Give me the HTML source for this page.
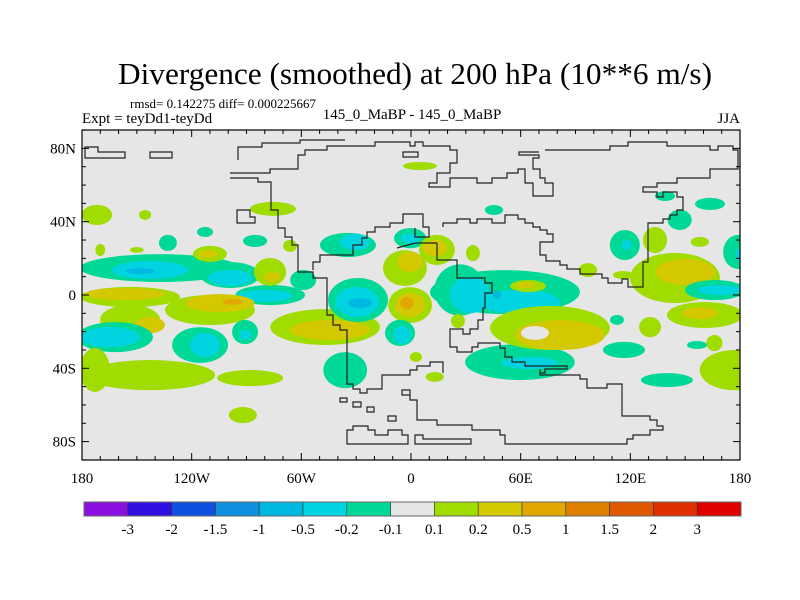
<!DOCTYPE html>
<html><head><meta charset="utf-8">
<style>
html,body{margin:0;padding:0;background:#fff;}
svg{display:block;font-family:"Liberation Serif",serif;}
</style></head>
<body>
<svg id="chart" width="800" height="600" viewBox="0 0 800 600" xmlns="http://www.w3.org/2000/svg">
<defs><clipPath id="plotclip"><rect x="82" y="130" width="658" height="330"/></clipPath></defs>
<text x="415" y="84" text-anchor="middle" font-size="31" textLength="594" lengthAdjust="spacingAndGlyphs">Divergence (smoothed) at 200 hPa (10**6 m/s)</text>
<text x="130" y="108" font-size="13">rmsd= 0.142275 diff= 0.000225667</text>
<text x="82" y="123" font-size="15">Expt = teyDd1-teyDd</text>
<text x="412" y="119" text-anchor="middle" font-size="15">145_0_MaBP - 145_0_MaBP</text>
<text x="740" y="123" text-anchor="end" font-size="15">JJA</text>
<rect x="82" y="130" width="658" height="330" fill="#e6e6e6"/>
<g id="fills" clip-path="url(#plotclip)"></g>
<g id="coast" clip-path="url(#plotclip)" fill="none" stroke="#222" stroke-width="1.2"></g>
<rect x="82" y="130" width="658" height="330" fill="none" stroke="#000" stroke-width="1.2"/>
<g id="axes"></g>
<g id="cbar"></g>
</svg>
<script>
// ---- data ----
const levelBounds = [-3, -2, -1.5, -1, -0.5, -0.2, -0.1, 0.1, 0.2, 0.5, 1, 1.5, 2, 3];
const levelLabels = ["-3","-2","-1.5","-1","-0.5","-0.2","-0.1","0.1","0.2","0.5","1","1.5","2","3"];
const levelColors = ["#8a10e0","#3010e0","#1050e0","#1090e0","#00b8e0","#00d4e0","#00d898","#e6e6e6","#a0dc00","#d4c800","#e0a800","#e08000","#e05800","#e03000","#e00000"];
const latTicks = [80, 40, 0, -40, -80];
const latLabels = ["80N","40N","0","40S","80S"];
const lonTicks = [-180, -120, -60, 0, 60, 120, 180];
const lonLabels = ["180","120W","60W","0","60E","120E","180"];
// smoothed divergence features: centre lon, centre lat, half-width lon, half-width lat, value
const blobLon = [-171.8,-170,-145.5,-112.7,-150,-137.3,-142.8,-148,-99,-99,-77,-80,-133,-85.3,-110,-111,-77.1,-76,-75.5,-66.2,
 -153.7,-156.5,-110,-104.5,-97.4,-153.7,-142.8,-47,-44.3,-162,-164.7,-115.4,-112.7,-90.8,-90.8,-142.8,-172.9,-88,-92,
 -29,-29.5,-27.9,-34.5,-30.6,-59,-36,-3.3,-0.5,-0.5,-0.5,-2.2,-6,-5,-0.5,-0.5,14.2,13,33.9,
 26.8,51.4,32.3,59.6,47,64,62.4,59.6,65,76,81.5,67.8,116.5,140,112.7,130.8,177,166,156.5,
 144.4,150,166.3,169,160.8,158,117,118,133.5,158,147,163.6,179,180,139,4.9,45.4,96.8,116,13,2.7,25.7];
const blobLat = [43.7,24.6,43.7,34.4,24.6,14.7,13.6,13,10.9,9.3,0,-0.5,28.4,29.5,22.4,22.4,12.6,9.8,47,26.8,
 -1.1,0.5,-8.2,-4.4,-3.8,-13.6,-16.4,-17.5,-19.1,-23,-23,-27.3,-27.3,-20.2,-21.8,-43.7,-40.9,-45.3,-65.5,
 -2.7,-3.8,-4.4,27.3,28.9,8.2,-41,14.7,18,-5.5,-5.5,-4.4,-20.7,-21.8,31,31,24.6,25.7,22.9,
 2.7,1.6,0,-3.8,0,4.9,5.4,-36.6,-37.1,-18,-21.8,-20.7,-30,-46.4,-13.6,-17.5,-41,-26.2,-27.3,
 9.3,12.6,2.7,2.7,-10.9,-10,27.3,27.3,30,29,41,49.7,23.5,22,54,70.4,46.4,13.6,10.9,-44.7,-33.8,-14.2];
const blobRLon = [8.2,2.7,3.3,4.4,3.8,43.8,20.8,8,16.4,12,19,15,4.9,6.6,9.3,5.5,8.8,4.4,12.6,3.8,
 27.4,22,24.6,19,5.5,16.4,8.2,30,21.9,20.8,16.4,15.3,8.2,7.1,3.3,35.6,8.2,18,7.7,
 16.4,12,6.6,15.3,8.2,7.1,12,12,7.1,12,8.2,3.8,8.2,4.9,8.8,4.9,9.8,6.6,3.8,
 14,41,11,21.9,2.2,9.8,5.5,30,15.3,32.8,24.6,7.7,11.5,14.2,3.8,6,19,4.4,5.5,
 24.6,16.4,16.4,12,20.8,9.8,8.2,2.7,6.6,5,6.6,8.2,8.2,2.7,5.5,9.3,5,5,5.5,4.9,3.3,3.8];
const blobRLat = [5.5,3.3,2.7,2.7,1.6,7.6,4.9,1.6,7.1,4.4,5.5,3.3,4.4,3.3,4.4,2.2,7.6,2.7,3.8,3.3,
 5.5,3.3,8.2,4.9,1.6,8.2,4.4,9.8,5.5,8.2,5.5,9.8,6.6,6.6,2.7,8.2,12,4.4,4.4,
 12,8.2,2.7,6.6,4.4,5.5,9.8,9.8,5.5,9.8,6.6,3.3,7.1,4.9,5.5,2.7,8.2,4.4,4.4,
 14,12,10,6.6,2.2,3.3,1.6,9.8,3.3,12,8.2,3.8,4.4,3.8,2.7,5.5,11,4.4,2.2,
 13.7,7.1,5.5,2.7,7.1,3.3,8.2,2.7,7.1,2.7,5.5,3.3,9.3,3.3,2.7,2.2,2.7,3.8,2.2,2.7,2.7,3.8];
const blobValue = [0.15,0.15,0.15,-0.15,0.15,-0.15,-0.3,-0.7,-0.15,-0.3,-0.15,-0.3,-0.15,-0.15,0.15,0.3,0.15,0.3,0.15,0.15,
 0.15,0.3,0.15,0.3,0.7,0.15,0.3,0.15,0.3,-0.15,-0.3,-0.15,-0.3,-0.15,-0.3,0.15,0.15,0.15,0.15,
 -0.15,-0.3,-0.7,-0.15,-0.3,-0.15,-0.15,0.15,0.3,0.15,0.3,0.7,-0.15,-0.3,-0.15,-0.3,0.15,0.3,0.15,
 -0.15,-0.15,-0.3,-0.3,-0.7,0.15,0.3,-0.15,-0.3,0.15,0.3,0,-0.15,-0.15,-0.15,0.15,0.15,0.15,-0.15,
 0.15,0.3,-0.15,-0.3,0.15,0.3,-0.15,-0.3,0.15,0.15,-0.15,-0.15,-0.15,-0.3,-0.15,0.15,-0.15,0.15,0.15,0.15,0.15,0.15];

// ---- scales ----
const X0 = 82, X1 = 740, Y0 = 130, Y1 = 460;
function xs(lon){ return X0 + (lon + 180) / 360 * (X1 - X0); }
function ys(lat){ return 295 - lat * (X1 - X0) / 360 * 1.0026; }
function colorFor(v){
  let i = 0;
  while (i < levelBounds.length && v >= levelBounds[i]) i++;
  return levelColors[i];
}
const NS = "http://www.w3.org/2000/svg";
function mk(tag, attrs, parent){
  const e = document.createElementNS(NS, tag);
  for (const k in attrs) e.setAttribute(k, attrs[k]);
  parent.appendChild(e); return e;
}

// ---- fills ----
const fills = document.getElementById("fills");
for (let i = 0; i < blobLon.length; i++){
  const e = mk("ellipse", {cx: xs(blobLon[i]), cy: ys(blobLat[i]),
    rx: blobRLon[i] / 360 * (X1 - X0), ry: blobRLat[i] * 1.8325, fill: colorFor(blobValue[i])}, fills);
  
  
}

// ---- coastlines (map geometry in pixels) ----
const coastPaths = [
 "M85,147 L98,147 L98,152 L125,152 L125,158 L85,158 Z",
 "M150,152 L172,152 L172,158 L150,158 Z",
 "M238,160 L238,147 L262,147 L262,143 L300,143 L300,140 L345,140",
 "M230,173 L270,173 L270,169 L298,169 L298,155 L305,155 L305,150 L327,150 L327,146 L375,146 L375,142 L410,142 L410,146 L415,146 L415,142 L423,142 L423,146 L450,146 L450,150 L457,150 L457,163 L450,163 L450,173 L437,173 L437,183 L429,183 L429,187 L450,187 L450,178 L477,178 L477,183 L492,183 L492,178 L507,178 L507,173 L518,173 L518,169 L525,169 L525,183 L533,183 L533,196 L553,196 L553,183 L545,183 L545,178 L540,178 L540,169 L533,169 L533,158 L539,158 L539,155 L519,155 L519,152 L539,152",
 "M545,150 L610,150 L610,146 L628,146 L628,142 L667,142 L667,146 L710,146 L710,150 L718,150 L718,146 L733,146 L733,150 L738,150 L738,169 L710,169 L710,178 L677,178 L677,183 L657,183 L657,187 L643,187 L643,192 L657,192 L657,197 L663,197 L663,192 L677,192 L677,197 L683,197 L683,210 L677,210 L677,215 L670,215 L670,219 L663,219 L663,223 L648,223 L648,262 L643,262 L643,287 L628,287 L628,279 L622,279 L622,283 L608,283 L608,278 L602,278 L602,274 L580,274 L580,269 L567,269 L567,265 L560,265 L560,261 L546,261 L546,255 L540,255 L540,242 L553,242 L553,234 L547,234 L547,230 L540,230 L540,227 L533,227 L533,223 L525,223 L525,219 L518,219 L518,215 L505,215 L505,223 L492,223 L492,219 L477,219 L477,223 L470,223 L470,219 L457,219 L457,223 L443,223 L443,227",
 "M230,178 L258,178 L258,182 L271,182 L271,210 L278,210 L278,228 L285,228 L285,237 L292,237 L292,245 L298,245 L298,272 L313,272 L313,278 L327,278 L327,315 L333,315 L333,325 L340,325 L340,330 L347,330 L347,384 L353,384 L353,389 L360,389 L360,393 L367,393 L367,389 L382,389 L382,375 L410,375 L410,370 L417,370 L417,366 L430,366 L430,362 L443,362 L443,373",
 "M237,210 L250,210 L250,217 L255,217 L255,223 L237,223 Z",
 "M415,228 L415,237 L429,237 L429,227 L423,227 L423,214 L403,214 L403,223 L390,223 L390,227 L375,227 L375,232 L367,232 L367,238 L362,238 L362,245 L353,245 L353,255 L320,255 L320,262 L313,262 L313,270",
 "M437,243 L437,260 L457,260 L457,278 L485,278 L485,283 L492,283 L492,293 L485,293 L485,308 L483,308 L483,320 L478,320 L478,329 L470,329 L470,334 L463,334 L463,329 L450,329 L450,347 L457,347 L457,352 L472,352 L472,347 L478,347 L478,343 L500,343 L500,348 L505,348 L505,357 L512,357 L512,362 L525,362 L525,366 L567,366 L567,369 L545,369 L545,373 L540,373",
 "M437,243 L415,243 L397,248",
 "M540,369 L540,375 L580,375 L580,379 L587,379 L587,388 L607,388 L607,384 L622,384 L622,416 L650,416 L650,420 L657,420 L657,426 L663,426 L663,430 L650,430 L650,435 L633,435 L633,439 L627,439 L627,444 L505,444 L505,435 L500,435 L500,430 L472,430 L472,425 L437,425 L437,420 L417,420 L417,400 L410,400 L410,390 L402,390 L402,395 L410,395",
 "M347,430 L347,444 L408,444 L408,435 L402,435 L402,430 L388,430 L388,435 L375,435 L375,430 L368,430 L368,426 L353,426 L353,430 Z",
 "M415,435 L415,444 L471,444 L471,439 L423,439 L423,435 Z",
 "M340,398 L347,398 L347,402 L340,402 Z",
 "M353,402 L361,402 L361,407 L353,407 Z",
 "M367,407 L374,407 L374,412 L367,412 Z",
 "M388,416 L396,416 L396,421 L388,421 Z",
 "M403,152 L418,152 L418,157 L403,157 Z"
];
const coast = document.getElementById("coast");
coastPaths.forEach(d => {
  const p = mk("path", {d: d}, coast);
  
  
});

// ---- axes ----
const axes = document.getElementById("axes");
for (let lon = -180; lon <= 180; lon += 10){
  const x = xs(lon), major = lon % 60 === 0, L = major ? 7 : 4;
  mk("line", {x1:x, y1:Y0, x2:x, y2:Y0+L, stroke:"#000"}, axes);
  mk("line", {x1:x, y1:Y1, x2:x, y2:Y1-L, stroke:"#000"}, axes);
}
for (let lat = -90; lat <= 90; lat += 10){
  const y = ys(lat), major = lat % 40 === 0, L = major ? 7 : 4;
  mk("line", {x1:X0, y1:y, x2:X0+L, y2:y, stroke:"#000"}, axes);
  mk("line", {x1:X1, y1:y, x2:X1-L, y2:y, stroke:"#000"}, axes);
}
latTicks.forEach((lat, i) => {
  const t = mk("text", {x: 76, y: ys(lat) + 5, "text-anchor": "end", "font-size": 15}, axes);
  t.textContent = latLabels[i];
  
  
});
lonTicks.forEach((lon, i) => {
  const t = mk("text", {x: xs(lon), y: 483, "text-anchor": "middle", "font-size": 15}, axes);
  t.textContent = lonLabels[i];
  
  
});

// ---- colorbar ----
const cbar = document.getElementById("cbar");
const CB0 = 84, CB1 = 741, CBY = 502, CBH = 14;
const bw = (CB1 - CB0) / levelColors.length;
levelColors.forEach((c, i) => {
  const r = mk("rect", {x: CB0 + i*bw, y: CBY, width: bw, height: CBH, fill: c, stroke: "#333", "stroke-width": 0.6}, cbar);
  
  
});
mk("rect", {x: CB0, y: CBY, width: CB1-CB0, height: CBH, fill: "none", stroke: "#666", "stroke-width": 1}, cbar);
levelLabels.forEach((lab, i) => {
  const t = mk("text", {x: CB0 + (i+1)*bw, y: 534, "text-anchor": "middle", "font-size": 15}, cbar);
  t.textContent = lab;
  
  
});
</script>
</body></html>
